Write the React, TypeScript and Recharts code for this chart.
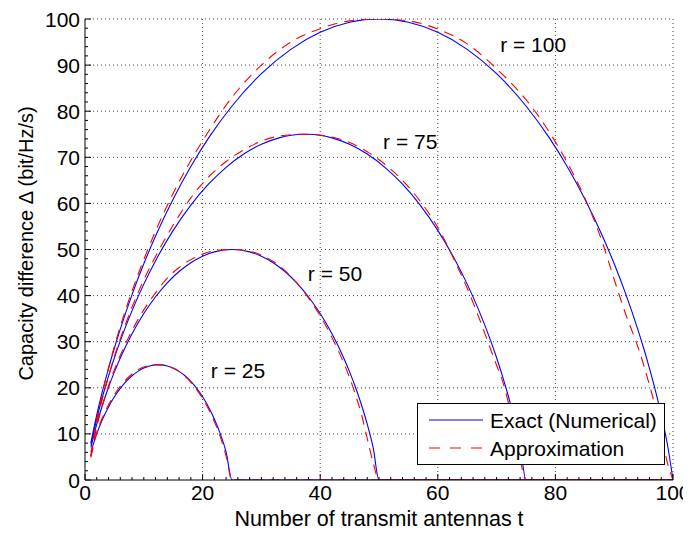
import React from 'react'
import { LineChart, Line, XAxis, YAxis, ReferenceLine, ReferenceDot, Legend } from 'recharts'

const FONT = '"Liberation Sans", Arial, Helvetica, sans-serif'

// r = 25
const tR25 = [1, 2, 3, 4, 5, 6, 7, 8, 9, 10, 11, 12, 13, 14, 15, 16, 17, 18, 19, 20, 21, 22, 23, 24, 25, 100]
const exactR25 = [6.06, 10.05, 13.23, 15.86, 18.05, 19.87, 21.39, 22.61, 23.57, 24.27, 24.74, 24.97, 24.97, 24.74, 24.27, 23.57, 22.61, 21.39, 19.87, 18.05, 15.86, 13.23, 10.05, 6.06, 0, 0]
const approxR25 = [4.9, 10.2, 13.6, 16.3, 18.5, 20.3, 21.8, 23.0, 23.9, 24.5, 24.85, 25.0, 24.95, 24.75, 24.25, 23.5, 22.5, 21.2, 19.6, 17.7, 15.4, 12.7, 9.4, 5.2, 0, 0]

// r = 50
const tR50 = [1, 2, 3, 4, 5, 6, 8, 10, 12, 14, 16, 18, 20, 22, 25, 28, 30, 32, 34, 36, 38, 40, 42, 44, 45, 46, 47, 48, 49, 50, 100]
const exactR50 = [7.07, 12.12, 16.37, 20.11, 23.45, 26.47, 31.72, 36.1, 39.75, 42.78, 45.22, 47.14, 48.55, 49.48, 50.0, 49.48, 48.55, 47.14, 45.22, 42.78, 39.75, 36.1, 31.72, 26.47, 23.45, 20.11, 16.37, 12.12, 7.07, 0, 0]
const approxR50 = [5.1, 11.5, 16.3, 20.4, 23.9, 27.0, 32.4, 36.9, 40.6, 43.8, 46.1, 47.8, 49.0, 49.7, 50.0, 49.6, 48.8, 47.4, 45.4, 42.8, 39.5, 35.6, 30.9, 25.4, 22.2, 18.5, 14.3, 9.0, 3.8, 0, 0]

// r = 75
const tR75 = [1, 2, 3, 4, 5, 6, 8, 10, 12, 15, 18, 21, 24, 27, 30, 33, 37, 38, 42, 45, 48, 51, 54, 57, 60, 63, 65, 67, 69, 70, 71, 72, 73, 74, 75, 100]
const exactR75 = [7.66, 13.31, 18.17, 22.53, 26.51, 30.17, 36.74, 42.49, 47.57, 54.14, 59.63, 64.16, 67.83, 70.7, 72.83, 74.22, 74.99, 74.99, 74.22, 72.83, 70.7, 67.83, 64.16, 59.63, 54.14, 47.57, 42.49, 36.74, 30.17, 26.51, 22.53, 18.17, 13.31, 7.66, 0, 0]
const approxR75 = [5.2, 12.3, 17.8, 22.5, 26.8, 30.6, 37.5, 43.4, 48.5, 55.3, 61.2, 65.7, 69.1, 71.6, 73.5, 74.6, 75.0, 75.0, 74.4, 73.2, 71.2, 68.5, 65.0, 60.5, 54.8, 47.2, 41.6, 35.2, 28.3, 24.9, 21.5, 16.8, 11.0, 4.5, 0, 0]

// r = 100
const tR100 = [1, 2, 3, 4, 5, 6, 8, 10, 12, 15, 18, 21, 25, 30, 35, 40, 45, 50, 55, 60, 65, 70, 75, 79, 82, 85, 88, 90, 92, 94, 95, 96, 97, 98, 99, 100]
const exactR100 = [8.08, 14.14, 19.44, 24.23, 28.64, 32.74, 40.22, 46.9, 52.94, 60.98, 68.01, 74.16, 81.13, 88.13, 93.41, 97.1, 99.28, 100, 99.28, 97.1, 93.41, 88.13, 81.13, 74.16, 68.01, 60.98, 52.94, 46.9, 40.22, 32.74, 28.64, 24.23, 19.44, 14.14, 8.08, 0]
const approxR100 = [5.3, 13.0, 19.0, 24.3, 29.0, 33.3, 41.0, 47.8, 54.0, 62.2, 69.3, 75.6, 83.0, 90.0, 95.0, 97.9, 99.6, 100, 99.6, 97.8, 94.6, 89.2, 82.5, 75.4, 68.9, 61.2, 51.5, 43.5, 35.8, 29.0, 25.0, 20.6, 15.8, 10.2, 4.0, 0]

const xMajor = [0, 20, 40, 60, 80, 100]
const yMajor = [0, 10, 20, 30, 40, 50, 60, 70, 80, 90, 100]

const annText = ['r = 25', 'r = 50', 'r = 75', 'r = 100']
const annT = [21.4, 37.9, 50.7, 70.6]
const annV = [23.7, 44.9, 73.4, 94.5]

const xTicks = Array.from({ length: 51 }, (_, i) => i * 2)
const yTicks = Array.from({ length: 51 }, (_, i) => i * 2)

const pts = (ts: number[], vs: number[]) => ts.map((t, i) => ({ t, v: vs[i] }))

const exactSeries = [pts(tR25, exactR25), pts(tR50, exactR50), pts(tR75, exactR75), pts(tR100, exactR100)]
const approxSeries = [pts(tR25, approxR25), pts(tR50, approxR50), pts(tR75, approxR75), pts(tR100, approxR100)]

const BLUE = '#0000ff'
const RED = '#ff0000'
const DASH = '10 7'

const XTick = (props: any) => {
  const { x, y, payload } = props
  const major = xMajor.includes(payload.value)
  return (
    <g>
      <line x1={x} x2={x} y1={y} y2={y - (major ? 6 : 3)} stroke="#000" />
      {major && (
        <text x={x} y={y + 20} textAnchor="middle" fontSize={21} fontFamily={FONT} fill="#000">
          {payload.value}
        </text>
      )}
    </g>
  )
}

const YTick = (props: any) => {
  const { x, y, payload } = props
  const major = yMajor.includes(payload.value)
  return (
    <g>
      <line x1={x} x2={x + (major ? 6 : 3)} y1={y} y2={y} stroke="#000" />
      {major && (
        <text x={x - 5} y={y} dy="0.36em" textAnchor="end" fontSize={21} fontFamily={FONT} fill="#000">
          {payload.value}
        </text>
      )}
    </g>
  )
}

const XLabel = (props: any) => {
  const vb = props.viewBox
  return (
    <text x={vb.x + vb.width / 2} y={vb.y + 46} textAnchor="middle" fontSize={21.5} fontFamily={FONT} fill="#000">
      Number of transmit antennas t
    </text>
  )
}

const YLabel = (props: any) => {
  const vb = props.viewBox
  const cx = 18
  const cy = vb.y + vb.height / 2 - 6
  return (
    <text
      x={cx}
      y={cy}
      transform={`rotate(-90 ${cx} ${cy})`}
      textAnchor="middle"
      dominantBaseline="central"
      fontSize={20}
      fontFamily={FONT}
      fill="#000"
    >
      Capacity difference Δ (bit/Hz/s)
    </text>
  )
}

const LegendBox = () => (
  <div
    style={{
      width: 248,
      height: 62,
      boxSizing: 'border-box',
      border: '1px solid #000',
      background: '#fff',
    }}
  >
    <svg width={246} height={60} style={{ display: 'block' }}>
      <line x1={11} x2={65} y1={16} y2={16} stroke={BLUE} strokeWidth={1.2} />
      <text x={72} y={16} dy="0.36em" fontSize={21} fontFamily={FONT} fill="#000">
        Exact (Numerical)
      </text>
      <line x1={11} x2={65} y1={44} y2={44} stroke={RED} strokeWidth={1.2} strokeDasharray="11 10" />
      <text x={72} y={44} dy="0.36em" fontSize={21} fontFamily={FONT} fill="#000">
        Approximation
      </text>
    </svg>
  </div>
)

export default function App() {
  return (
    <LineChart width={683} height={525} margin={{ top: 11, right: 18, left: 0, bottom: 0 }}>
      <XAxis
        type="number"
        dataKey="t"
        domain={[0, 100]}
        ticks={xTicks}
        interval={0}
        tick={<XTick />}
        tickLine={false}
        tickSize={0}
        tickMargin={0}
        axisLine={{ stroke: '#000' }}
        height={53}
        allowDataOverflow
        label={XLabel}
      />
      <YAxis
        type="number"
        dataKey="v"
        domain={[0, 100]}
        ticks={yTicks}
        interval={0}
        tick={<YTick />}
        tickLine={false}
        tickSize={0}
        tickMargin={0}
        axisLine={{ stroke: '#000' }}
        width={77}
        allowDataOverflow
        label={YLabel}
      />
      {xMajor.filter((v) => v > 0).map((v) => (
        <ReferenceLine key={`gx${v}`} x={v} stroke="#444" strokeDasharray="1 3" />
      ))}
      {yMajor.filter((v) => v > 0).map((v) => (
        <ReferenceLine key={`gy${v}`} y={v} stroke="#444" strokeDasharray="1 3" />
      ))}
      {exactSeries.map((d, i) => (
        <Line
          key={`e${i}`}
          data={d}
          dataKey="v"
          type="monotone"
          stroke={BLUE}
          strokeWidth={1.1}
          dot={false}
          activeDot={false}
          isAnimationActive={false}
        />
      ))}
      {approxSeries.map((d, i) => (
        <Line
          key={`a${i}`}
          data={d}
          dataKey="v"
          type="monotone"
          stroke={RED}
          strokeWidth={1.1}
          strokeDasharray={DASH}
          dot={false}
          activeDot={false}
          isAnimationActive={false}
        />
      ))}
      {annText.map((txt, i) => (
        <ReferenceDot
          key={txt}
          x={annT[i]}
          y={annV[i]}
          r={1}
          fill="none"
          stroke="none"
          label={(p: any) => (
            <text
              x={p.viewBox.x + p.viewBox.width / 2}
              y={p.viewBox.y + p.viewBox.height / 2}
              dy="0.36em"
              fontSize={21}
              fontFamily={FONT}
              fill="#000"
            >
              {txt}
            </text>
          )}
        />
      ))}
      <Legend
        layout="horizontal"
        verticalAlign="middle"
        align="center"
        wrapperStyle={{ left: 409, top: 395, width: 248, height: 62 }}
        content={() => <LegendBox />}
      />
    </LineChart>
  )
}
